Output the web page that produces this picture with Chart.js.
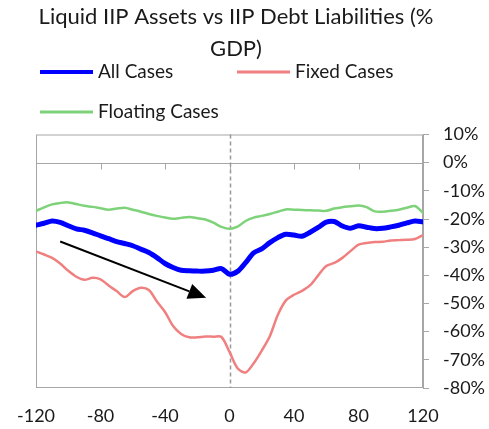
<!DOCTYPE html>
<html>
<head>
<meta charset="utf-8">
<script src="https://cdn.jsdelivr.net/npm/chart.js@4.4.1/dist/chart.umd.min.js"></script>
<style>
  html, body { margin: 0; padding: 0; background: #fff; }
  #wrap { width: 489px; height: 429px; position: relative; }
</style>
</head>
<body>
<div id="wrap"><canvas id="chart"></canvas></div>
<script>
// days around the event, every 5 days
const days = [-120, -115, -110, -105, -100, -95, -90, -85, -80, -75, -70, -65, -60, -55, -50, -45, -40, -35, -30, -25, -20, -15, -10, -5,
    0, 5, 10, 15, 20, 25, 30, 35, 40, 45, 50, 55, 60, 65, 70, 75, 80, 85, 90, 95, 100, 105, 110, 115, 120];

const allCases = [-22.2, -21.5, -20.7, -21.2, -22.4, -23.5, -24.0, -24.9, -26.0, -27.0, -28.0, -28.7, -29.5, -30.7, -31.9, -33.7, -35.8,
    -37.2, -38.2, -38.4, -38.5, -38.5, -38.2, -37.6, -39.6, -38.6, -35.5, -32.0, -30.6, -28.4, -26.6, -25.4, -25.7, -26.1, -24.7, -23.0,
    -21.1, -20.9, -22.5, -23.3, -22.4, -22.9, -23.4, -23.3, -22.8, -22.2, -21.4, -20.7, -21.0];

const fixedCases = [-31.5, -32.6, -33.8, -35.8, -38.4, -40.5, -41.6, -40.9, -41.4, -43.6, -45.6, -47.7, -45.6, -44.4, -45.2, -49.3, -53.0,
    -58.0, -60.8, -62.0, -62.0, -61.7, -61.8, -61.9, -67.2, -73.0, -74.5, -71.2, -66.7, -61.6, -54.0, -48.9, -46.9, -45.5, -43.5, -40.0,
    -36.7, -35.6, -33.8, -31.4, -29.1, -28.5, -28.2, -28.1, -27.6, -27.5, -27.4, -27.1, -25.7];

const floatingCases = [-17.1, -15.9, -14.8, -14.3, -14.1, -14.7, -15.3, -15.7, -16.2, -16.7, -16.3, -16.0, -16.7, -17.4, -18.2, -18.9, -19.5,
    -19.9, -19.6, -19.3, -19.7, -20.2, -21.3, -22.8, -23.5, -22.7, -20.7, -19.5, -18.9, -18.2, -17.4, -16.6, -16.7, -16.8, -16.9, -17.0,
    -17.1, -16.3, -15.8, -15.5, -15.2, -15.8, -17.3, -17.4, -17.1, -16.7, -16.0, -15.4, -17.8];

const titleLines = ['Liquid IIP Assets vs IIP Debt Liabilities (%', 'GDP)'];

// arrow annotation, in data units [day, %]
const arrowFrom = [-105, -28];
const arrowTo = [-14.5, -48];

const FONT = 'Lato, "DejaVu Sans", sans-serif';
const GRAY = '#a6a6a6';
const TEXT = '#1a1a1a';

const toPoints = (vals) => days.map((d, i) => ({ x: d, y: vals[i] }));

const decor = {
    id: 'decor',
    beforeDatasetsDraw(chart) {
        const { ctx, chartArea: a, scales: { x, y } } = chart;
        ctx.save();
        ctx.strokeStyle = GRAY;
        ctx.lineWidth = 1;
        // plot frame
        ctx.strokeRect(a.left + 0.5, a.top + 0.5, a.width - 1, a.height - 1);
        // horizontal axis at 0% with tick marks
        const y0 = Math.round(y.getPixelForValue(0)) + 0.5;
        ctx.beginPath();
        ctx.moveTo(a.left, y0);
        ctx.lineTo(a.right, y0);
        x.ticks.forEach(t => {
            const px = Math.round(x.getPixelForValue(t.value)) + 0.5;
            ctx.moveTo(px, y0);
            ctx.lineTo(px, y0 + 6);
        });
        ctx.stroke();
        // event day
        const xz = Math.round(x.getPixelForValue(0)) + 0.5;
        ctx.strokeStyle = '#999999';
        ctx.lineWidth = 1.5;
        ctx.setLineDash([4, 3]);
        ctx.beginPath();
        ctx.moveTo(xz, a.top);
        ctx.lineTo(xz, a.bottom);
        ctx.stroke();
        ctx.restore();
    },
    afterDatasetsDraw(chart) {
        const { ctx, scales: { x, y } } = chart;
        const x1 = x.getPixelForValue(arrowFrom[0]), y1 = y.getPixelForValue(arrowFrom[1]);
        const x2 = x.getPixelForValue(arrowTo[0]), y2 = y.getPixelForValue(arrowTo[1]);
        const ang = Math.atan2(y2 - y1, x2 - x1);
        const len = 18, half = 8;
        const bx = x2 - len * Math.cos(ang), by = y2 - len * Math.sin(ang);
        ctx.save();
        ctx.strokeStyle = '#000';
        ctx.fillStyle = '#000';
        ctx.lineWidth = 2;
        ctx.beginPath();
        ctx.moveTo(x1, y1);
        ctx.lineTo(bx, by);
        ctx.stroke();
        ctx.beginPath();
        ctx.moveTo(x2, y2);
        ctx.lineTo(bx + half * Math.sin(ang), by - half * Math.cos(ang));
        ctx.lineTo(bx - half * Math.sin(ang), by + half * Math.cos(ang));
        ctx.closePath();
        ctx.fill();
        ctx.restore();
    },
    afterDraw(chart) {
        const { ctx } = chart;
        ctx.save();
        ctx.fillStyle = TEXT;
        ctx.textBaseline = 'middle';

        // title, two lines, centred a little left of the canvas middle like the original
        ctx.font = '22px ' + FONT;
        ctx.textAlign = 'center';
        titleLines.forEach((line, i) => ctx.fillText(line, 236, 17 + i * 31.5));

        // legend laid out like the original: two columns, wraps to a second row
        const slots = [[40, 72], [237, 72], [40, 112]];
        ctx.font = '19px ' + FONT;
        ctx.textAlign = 'left';
        chart.data.datasets.forEach((ds, i) => {
            const [lx, ly] = slots[i];
            ctx.strokeStyle = ds.borderColor;
            ctx.lineWidth = ds.legendWidth;
            ctx.beginPath();
            ctx.moveTo(lx, ly);
            ctx.lineTo(lx + 53, ly);
            ctx.stroke();
            ctx.fillText(ds.label, lx + 58, ly);
        });
        ctx.restore();
    }
};

new Chart(document.getElementById('chart'), {
    type: 'line',
    data: {
        datasets: [
            { label: 'All Cases', data: toPoints(allCases), borderColor: '#0000ff', borderWidth: 5, legendWidth: 4 },
            { label: 'Fixed Cases', data: toPoints(fixedCases), borderColor: '#f08080', borderWidth: 2.5, legendWidth: 3 },
            { label: 'Floating Cases', data: toPoints(floatingCases), borderColor: '#7ed37a', borderWidth: 2.5, legendWidth: 3 }
        ]
    },
    options: {
        responsive: true,
        maintainAspectRatio: false,
        animation: false,
        layout: { padding: { left: 30, right: 0, top: 134.5, bottom: 0 } },
        elements: {
            point: { radius: 0 },
            line: { tension: 0.3, borderJoinStyle: 'round', borderCapStyle: 'round' }
        },
        plugins: {
            legend: { display: false },
            tooltip: { enabled: false },
            title: { display: false }
        },
        scales: {
            x: {
                type: 'linear',
                min: -120,
                max: 120,
                grid: { display: false, drawTicks: false },
                border: { display: false },
                ticks: { stepSize: 40, padding: 17, color: TEXT, font: { family: FONT, size: 18 } },
                afterFit(scale) { scale.height = 41; }
            },
            y: {
                position: 'right',
                min: -80,
                max: 10,
                grid: { drawOnChartArea: false, drawTicks: true, tickLength: 6, color: GRAY },
                border: { display: true, color: GRAY },
                ticks: {
                    stepSize: 10,
                    padding: 14,
                    color: TEXT,
                    font: { family: FONT, size: 18 },
                    callback: (v) => v + '%'
                },
                afterFit(scale) { scale.width = 66; }
            }
        }
    },
    plugins: [decor]
});
</script>
</body>
</html>
